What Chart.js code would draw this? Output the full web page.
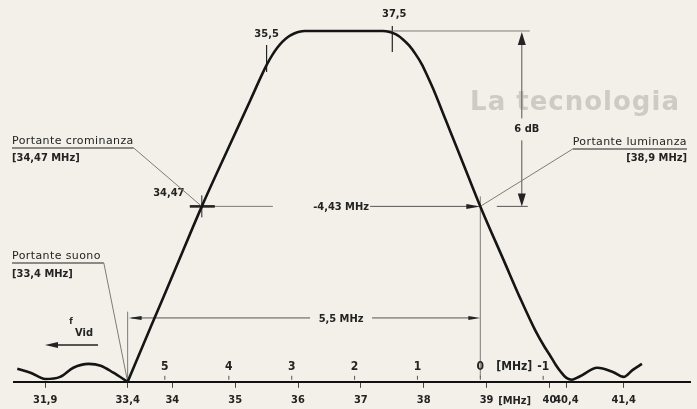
<!DOCTYPE html>
<html>
<head>
<meta charset="utf-8">
<script src="https://cdn.jsdelivr.net/npm/chart.js@4.4.1/dist/chart.umd.min.js"></script>
<style>
  html, body { margin: 0; padding: 0; background: #f2f0e9; }
  #c { display: block; }
</style>
</head>
<body>
<canvas id="c" width="697" height="409"></canvas>
<script>
// Ripple of the IF response below the sound carrier (frequency in MHz, relative amplitude)
const rippleFreq = [31.39, 31.63, 31.9, 32.17, 32.41, 32.69, 32.91, 33.14, 33.4];
const rippleAmp  = [0.037, 0.026, 0.008, 0.014, 0.040, 0.051, 0.046, 0.026, 0.0];

// Main passband, from the sound-carrier trap up to the ripple above 40 MHz
const passFreq = [33.4, 33.71, 34.05, 34.47, 34.92, 35.24, 35.43, 35.51, 35.59, 35.67,
                  35.75, 35.84, 35.93, 36.02, 36.11, 36.9, 37.35, 37.46, 37.56, 37.67,
                  37.77, 37.87, 37.97, 38.06, 38.16, 38.35, 38.53, 38.72, 38.9, 39.29,
                  39.53, 39.77, 39.93, 40.0, 40.15, 40.27, 40.4, 40.5, 40.63, 40.94,
                  41.21, 41.4, 41.56, 41.72];
const passAmp  = [0, 0.156, 0.322, 0.5, 0.677, 0.802, 0.877, 0.906, 0.931, 0.952,
                  0.969, 0.983, 0.992, 0.998, 1.0, 1.0, 1.0, 0.997, 0.990, 0.976,
                  0.958, 0.934, 0.905, 0.871, 0.831, 0.746, 0.666, 0.580, 0.5, 0.339,
                  0.240, 0.148, 0.097, 0.078, 0.048, 0.028, 0.011, 0.006, 0.015, 0.040,
                  0.028, 0.014, 0.034, 0.051];

// Frequency ticks (MHz) and distance below the vision carrier (MHz)
const freqTicks   = [31.9, 33.4, 34, 35, 36, 37, 38, 39, 40, 40.4, 41.4];
const offsetTicks = [5, 4, 3, 2, 1, 0, -1];

// Carriers and passband corners
const soundCarrier  = 33.4;
const chromaCarrier = 34.47;
const visionCarrier = 38.9;
const cornerMarks   = [35.5, 37.5];

// The frequency axis is drawn stretched near the traps: knots in MHz and their axis position
const warpMHz = [31.9, 33.4, 34, 40, 40.4, 41.4];
const warpPos = [31.98, 33.29, 34, 40, 40.27, 41.18];

function warp(v) {
  const k = warpMHz, p = warpPos, n = k.length;
  let i = 0;
  if (v >= k[n - 1]) i = n - 2;
  else if (v > k[0]) { while (v > k[i + 1]) i++; }
  return p[i] + (v - k[i]) * (p[i + 1] - p[i]) / (k[i + 1] - k[i]);
}
function unwarp(u) {
  const k = warpMHz, p = warpPos, n = k.length;
  let i = 0;
  if (u >= p[n - 1]) i = n - 2;
  else if (u > p[0]) { while (u > p[i + 1]) i++; }
  return k[i] + (u - p[i]) * (k[i + 1] - k[i]) / (p[i + 1] - p[i]);
}

class StretchScale extends Chart.LinearScale {
  getPixelForValue(value) {
    if (value === null || value === undefined || isNaN(value)) return NaN;
    const u0 = warp(this.min), u1 = warp(this.max);
    return this.getPixelForDecimal((warp(value) - u0) / (u1 - u0));
  }
  getValueForPixel(pixel) {
    const u0 = warp(this.min), u1 = warp(this.max);
    return unwarp(u0 + this.getDecimalForPixel(pixel) * (u1 - u0));
  }
}
StretchScale.id = 'stretch';
StretchScale.defaults = {};
Chart.register(StretchScale);

const INK = '#232323';
const THIN = '#7d7b76';
const NARROW = "'Liberation Sans Narrow', 'DejaVu Sans Condensed', 'Roboto', sans-serif";
const PLAIN = "'DejaVu Sans', 'Liberation Sans', sans-serif";
const fmt = v => String(v).replace('.', ',');

function arrowHead(ctx, x, y, dx, dy, len, half) {
  ctx.beginPath();
  ctx.moveTo(x, y);
  ctx.lineTo(x - dx * len - dy * half, y - dy * len + dx * half);
  ctx.lineTo(x - dx * len + dy * half, y - dy * len - dx * half);
  ctx.closePath();
  ctx.fill();
}
function seg(ctx, x1, y1, x2, y2, w, c) {
  ctx.beginPath();
  ctx.lineWidth = w;
  ctx.strokeStyle = c;
  ctx.moveTo(x1, y1);
  ctx.lineTo(x2, y2);
  ctx.stroke();
}
function label(ctx, s, x, y, font, align, color, spacing) {
  ctx.font = font;
  ctx.textAlign = align || 'center';
  ctx.textBaseline = 'middle';
  ctx.fillStyle = color || INK;
  ctx.letterSpacing = spacing || '0px';
  ctx.fillText(s, x, y);
  const w = ctx.measureText(s).width;
  ctx.letterSpacing = '0px';
  return w;
}

const annotations = {
  id: 'annotations',
  beforeDatasetsDraw(chart) {
    const ctx = chart.ctx;
    const xs = chart.scales.x, ys = chart.scales.y;
    const X = v => xs.getPixelForValue(v);
    const Y = v => ys.getPixelForValue(v);
    ctx.save();

    // faint page heading behind the figure
    label(ctx, 'La tecnologia', 575, 103, "bold 26px " + PLAIN, 'center', '#cecbc4', '1px');

    const yTop = Y(1), yHalf = Y(0.5), yBase = Y(0);
    const xc = X(chromaCarrier), xv = X(visionCarrier), xs0 = X(soundCarrier);

    // passband corner marks
    const c1 = X(cornerMarks[0]), c2 = X(cornerMarks[1]);
    seg(ctx, c1, yTop + 14, c1, yTop + 41, 1.2, INK);
    label(ctx, fmt(cornerMarks[0]), c1, yTop + 3, "bold 11px " + NARROW);
    seg(ctx, c2, yTop - 5, c2, yTop + 21, 1.2, INK);
    label(ctx, fmt(cornerMarks[1]), c2 + 2, yTop - 17, "bold 11px " + NARROW);

    // 6 dB level arrow
    const xd = X(39.56);
    seg(ctx, c2 - 10, yTop, xd + 8, yTop, 1, THIN);
    seg(ctx, xd, yTop + 4, xd, yHalf - 88, 1, '#555');
    seg(ctx, xd, yHalf - 66, xd, yHalf - 4, 1, '#555');
    ctx.fillStyle = INK;
    arrowHead(ctx, xd, yTop + 1, 0, -1, 13, 4);
    arrowHead(ctx, xd, yHalf, 0, 1, 13, 4);
    seg(ctx, xd - 25, yHalf, xd + 6, yHalf, 1, '#555');
    label(ctx, '6 dB', xd + 5, yHalf - 77, "bold 11px " + NARROW);

    // chroma carrier point and the -4,43 MHz span
    const xMid = X((chromaCarrier + visionCarrier) / 2);
    seg(ctx, xc - 12, yHalf, xc + 71, yHalf, 1, THIN);
    seg(ctx, xc - 12, yHalf, xc + 13, yHalf, 2.6, INK);
    seg(ctx, xc, yHalf - 11, xc, yHalf + 11, 1, INK);
    label(ctx, '34,47', xc - 33, yHalf - 13, "bold 11px " + NARROW);
    label(ctx, '-4,43 MHz', xMid, yHalf + 1, "bold 11px " + NARROW);
    seg(ctx, xMid + 29, yHalf, xv - 10, yHalf, 1, '#555');
    ctx.fillStyle = INK;
    arrowHead(ctx, xv, yHalf, 1, 0, 14, 2.5);

    // vision carrier drop line and 5,5 MHz span
    seg(ctx, xv, yHalf - 10, xv, yBase - 5, 1, THIN);
    const y55 = Y(0.182);
    seg(ctx, xs0, Y(0.2), xs0, yBase, 1, THIN);
    seg(ctx, xs0 + 4, y55, xMid - 31, y55, 1, '#555');
    seg(ctx, xMid + 31, y55, xv - 8, y55, 1, '#555');
    ctx.fillStyle = INK;
    arrowHead(ctx, xs0 + 1, y55, -1, 0, 13, 2);
    arrowHead(ctx, xv, y55, 1, 0, 12, 2);
    label(ctx, '5,5 MHz', xMid, y55 + 1, "bold 11px " + NARROW);

    // carrier captions with leader lines
    let w = label(ctx, 'Portante crominanza', 12, 141, "11px " + PLAIN, 'left', INK, '0.4px');
    seg(ctx, 12, 148, 12 + w, 148, 1, INK);
    seg(ctx, 12 + w, 148, xc, yHalf, 1, THIN);
    label(ctx, '[34,47 MHz]', 12, 158, "bold 11px " + NARROW, 'left');

    w = label(ctx, 'Portante luminanza', 687, 142, "11px " + PLAIN, 'right', INK, '0.4px');
    seg(ctx, 687 - w, 149, 687, 149, 1, INK);
    seg(ctx, 687 - w, 149, xv, yHalf, 1, THIN);
    label(ctx, '[38,9 MHz]', 687, 158, "bold 11px " + NARROW, 'right');

    w = label(ctx, 'Portante suono', 12, 256, "11px " + PLAIN, 'left', INK, '0.4px');
    seg(ctx, 12, 263, 15 + w, 263, 1, INK);
    seg(ctx, 15 + w, 263, xs0, yBase, 1, THIN);
    label(ctx, '[33,4 MHz]', 12, 274, "bold 11px " + NARROW, 'left');

    // direction of video frequency
    seg(ctx, 55, 345, 98, 345, 1.3, INK);
    ctx.fillStyle = INK;
    arrowHead(ctx, 45, 345, -1, 0, 13, 3);
    label(ctx, 'f', 71, 322, "bold 9px " + NARROW);
    label(ctx, 'Vid', 84, 333, "bold 11px " + NARROW);

    // offset scale above the axis, counted from the vision carrier
    offsetTicks.forEach(n => {
      const x = X(visionCarrier - n);
      label(ctx, String(n), x, yBase - 15, "bold 12px " + NARROW);
      seg(ctx, x, yBase - 6, x, yBase - 2, 1, '#555');
    });
    label(ctx, '[MHz]', xv + 34, yBase - 15, "bold 12px " + NARROW);
    label(ctx, '[MHz]', X(39) + 28, yBase + 19, "bold 11px " + NARROW);

    ctx.restore();
  }
};

const curveStyle = {
  borderColor: '#151515',
  borderWidth: 2.6,
  pointRadius: 0,
  fill: false,
  cubicInterpolationMode: 'monotone'
};

new Chart(document.getElementById('c'), {
  type: 'line',
  data: {
    datasets: [
      Object.assign({ data: rippleFreq.map((f, i) => ({ x: f, y: rippleAmp[i] })) }, curveStyle),
      Object.assign({ data: passFreq.map((f, i) => ({ x: f, y: passAmp[i] })) }, curveStyle)
    ]
  },
  options: {
    responsive: false,
    animation: false,
    devicePixelRatio: 1,
    layout: { padding: { left: 14, right: 7, top: 0, bottom: -4 } },
    plugins: { legend: { display: false }, tooltip: { enabled: false } },
    scales: {
      x: {
        type: 'stretch',
        min: 31.33,
        max: 42.56,
        bounds: 'data',
        afterBuildTicks: s => { s.ticks = freqTicks.map(v => ({ value: v })); },
        ticks: {
          autoSkip: false,
          maxRotation: 0,
          padding: 6,
          color: INK,
          font: { family: NARROW, size: 11, weight: 'bold' },
          callback: v => fmt(v)
        },
        grid: { drawOnChartArea: false, tickLength: 6, color: '#444', lineWidth: 1 },
        border: { color: '#111', width: 2 }
      },
      y: { display: false, min: 0, max: 1.0883 }
    }
  },
  plugins: [annotations]
});
</script>
</body>
</html>
